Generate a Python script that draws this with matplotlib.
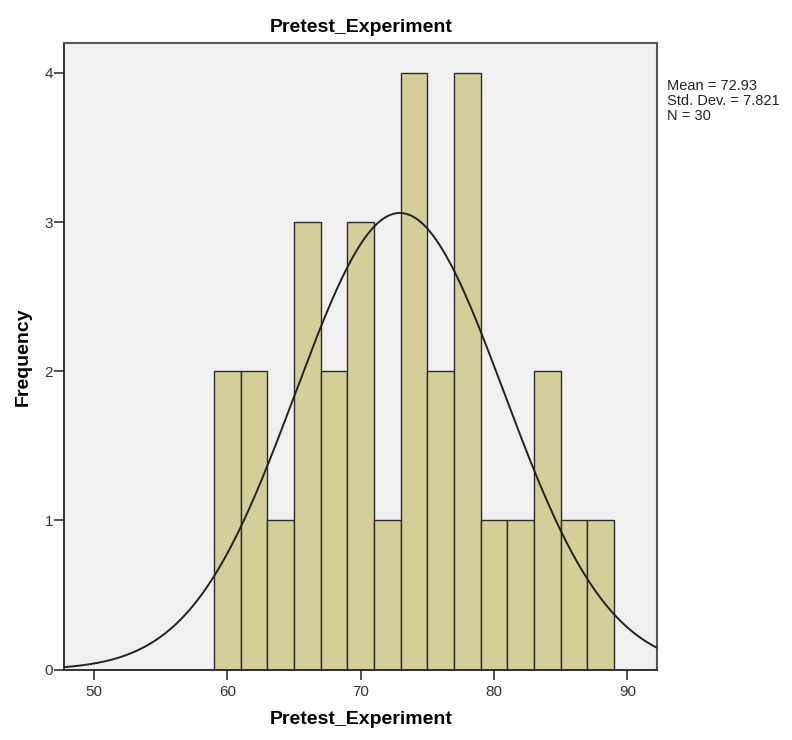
import numpy as np
import matplotlib.pyplot as plt

plt.rcParams['font.family'] = ['Liberation Sans', 'DejaVu Sans']

# histogram bins (width 2) and counts
bin_edges = [59, 61, 63, 65, 67, 69, 71, 73, 75, 77, 79, 81, 83, 85, 87, 89]
counts = [2, 2, 1, 3, 2, 3, 1, 4, 2, 4, 1, 1, 2, 1, 1]
mean = 72.93
std = 7.821
n = 30
x_ticks = [50, 60, 70, 80, 90]
y_ticks = [0, 1, 2, 3, 4]

fig = plt.figure(figsize=(7.92, 7.4), dpi=100)
ax = fig.add_axes([0.081, 0.095, 0.749, 0.847])
ax.set_facecolor('#f0f0f0')

left = bin_edges[:-1]
widths = np.diff(bin_edges)
ax.bar(left, counts, width=widths, align='edge', color='#d4cf98',
       edgecolor='#2b2b2b', linewidth=1.0, zorder=2)

# normal curve scaled to counts
xs = np.linspace(47.76, 92.24, 400)
bw = widths[0]
ys = n * bw / (std * np.sqrt(2 * np.pi)) * np.exp(-0.5 * ((xs - mean) / std) ** 2)
ax.plot(xs, ys, color='#222222', linewidth=1.4, zorder=3)

ax.set_xlim(47.76, 92.24)
ax.set_ylim(0, 4.2)
ax.set_xticks(x_ticks)
ax.set_yticks(y_ticks)
ax.tick_params(axis='both', direction='out', length=7, width=1.2,
               labelsize=11, labelcolor='#333333', color='#333333')
ax.tick_params(axis='x', pad=4)
ax.tick_params(axis='y', pad=1)

for s in ['left', 'bottom']:
    ax.spines[s].set_color('#222222')
    ax.spines[s].set_linewidth(1.3)
for s in ['top', 'right']:
    ax.spines[s].set_color('#555555')
    ax.spines[s].set_linewidth(1.5)

ax.set_title('Pretest_Experiment', fontsize=14, fontweight='bold', pad=8)
ax.set_xlabel('Pretest_Experiment', fontsize=14, fontweight='bold', labelpad=9)
ax.set_ylabel('Frequency', fontsize=14, fontweight='bold', labelpad=9)

fig.text(0.842, 0.893, f'Mean = {mean}\nStd. Dev. = {std}\nN = {n}',
         fontsize=10.5, va='top', ha='left', color='#222222', linespacing=1.1)

fig.savefig('out.png', dpi=100)
